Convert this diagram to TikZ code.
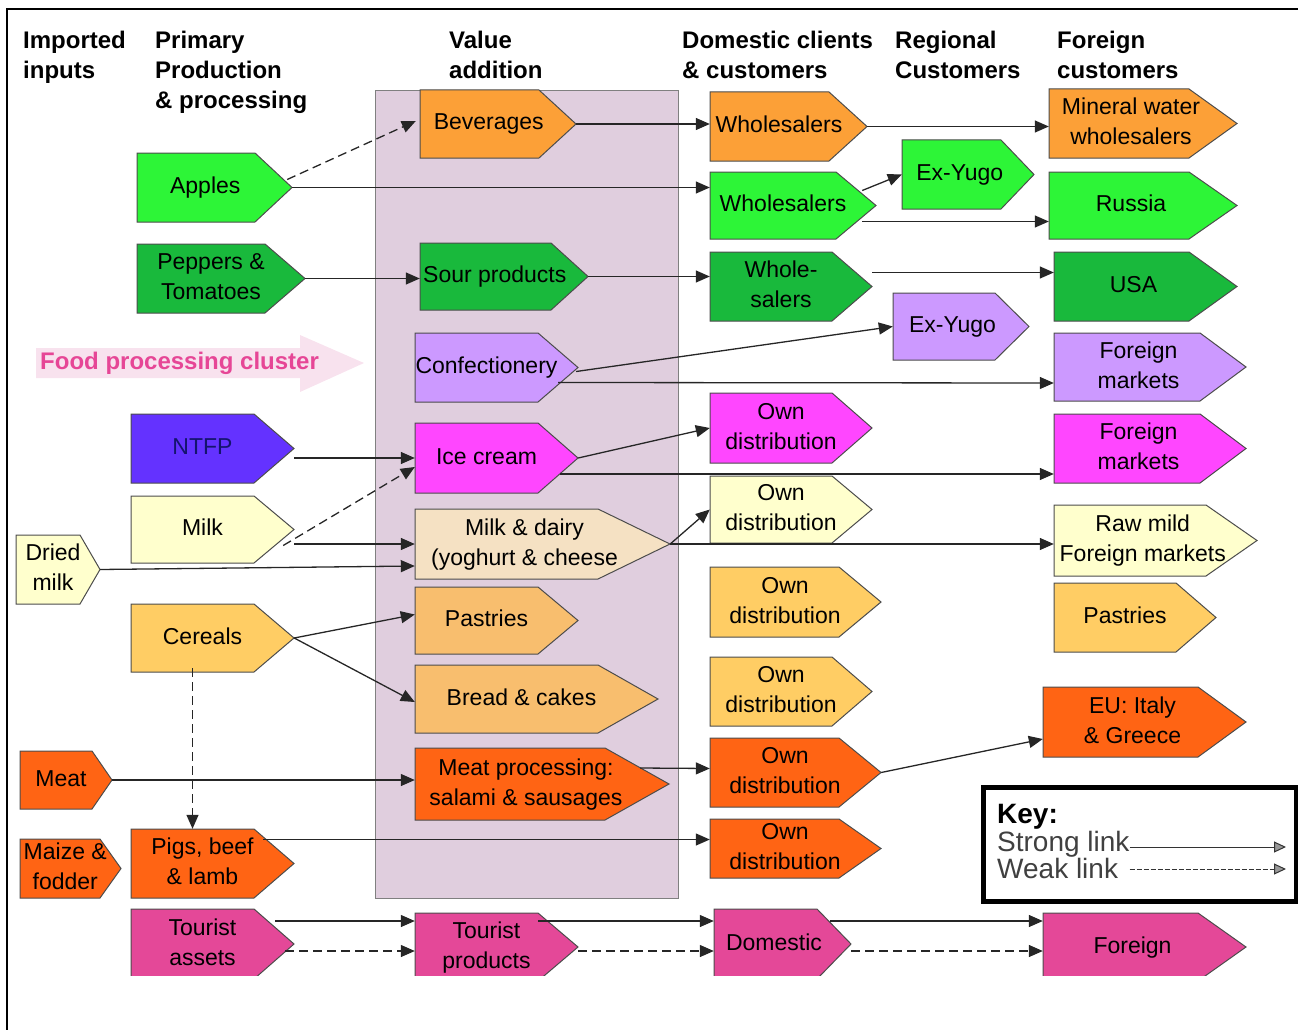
\documentclass[tikz,border=0pt]{standalone}
\usepackage{fontspec}
\setmainfont{Liberation Sans}
\usepackage{xcolor}
\usetikzlibrary{arrows.meta}

\definecolor{orng}{RGB}{252,160,55}
\definecolor{ltgreen}{RGB}{45,245,55}
\definecolor{dkgreen}{RGB}{25,185,60}
\definecolor{lavender}{RGB}{204,153,255}
\definecolor{ntfpblue}{RGB}{100,50,255}
\definecolor{navy}{RGB}{20,20,110}
\definecolor{magenta}{RGB}{255,70,255}
\definecolor{cream}{RGB}{255,255,205}
\definecolor{beige}{RGB}{245,225,195}
\definecolor{gold}{RGB}{255,205,100}
\definecolor{gold2}{RGB}{248,190,110}
\definecolor{redorng}{RGB}{255,100,20}
\definecolor{pink}{RGB}{228,72,152}
\definecolor{panel}{RGB}{224,206,222}
\definecolor{clusterpink}{RGB}{230,70,150}
\definecolor{clusterbg}{RGB}{248,226,238}

\tikzset{
  strong/.style={draw=black!85, line width=1.3pt, -{Triangle[length=14pt,width=12pt]}},
  weak/.style={strong, dash pattern=on 9pt off 5pt},
  keyline/.style={draw=black!80, line width=1pt, -{Triangle[length=12pt,width=11pt,fill=black!40]}},
  boxline/.style={draw=black!70, line width=1pt},
  boxtxt/.style={inner sep=0pt, font=\fontsize{23}{30}\selectfont},
  heading/.style={anchor=north west, inner sep=0pt, align=left, font=\fontsize{24}{30}\selectfont\bfseries},
  keytxt/.style={anchor=west, inner sep=0pt, text=black!75, font=\fontsize{28}{28}\selectfont},
}

% name, left, top, shoulder, tip, bottom, colour, text
\newcommand{\arrbox}[8]{%
  \filldraw[boxline, fill=#7] (#2,#3) -- (#4,#3) -- (#5,{(#3+#6)/2}) -- (#4,#6) -- (#2,#6) -- cycle;
  \pgfmathsetmacro\tipgap{(#5-#4)/2}
  \node[boxtxt, minimum width={(#5-#2)*1pt}, minimum height={(#6-#3)*1pt}] (#1) at ({(#2+#5)/2},{(#3+#6)/2})
    {\begin{tabular}{@{}c@{}}#8\end{tabular}\hspace*{\tipgap pt}};
}

\begin{document}
\begin{tikzpicture}[x=1pt, y=-1pt]
\useasboundingbox (0,0) rectangle (1298,1030);

% frame
\draw[line width=2.5pt] (7,1030) -- (7,9) -- (1298,9);

% column headings
\node[heading] (hinputs) at (23,31) {Imported\\inputs};
\node[heading] (hprimary) at (155,31) {Primary\\Production\\\& processing};
\node[heading] (hvalue) at (449,31) {Value\\addition};
\node[heading] (hdomestic) at (682,31) {Domestic clients\\\& customers};
\node[heading] (hregional) at (895,31) {Regional\\Customers};
\node[heading] (hforeign) at (1057,31) {Foreign\\customers};

% value addition panel
\filldraw[fill=panel, draw=black!50] (375,90) rectangle (678,898);

% cluster label
\fill[clusterbg] (36,348) -- (300,348) -- (300,335) -- (364,363) -- (300,392) -- (300,378) -- (36,378) -- cycle;
\node[anchor=west, inner sep=0pt, text=clusterpink, font=\fontsize{24}{30}\selectfont\bfseries] (cluster) at (40,363) {Food processing cluster};

% inputs and primary production
\arrbox{apples}{137}{153}{255}{292}{222}{ltgreen}{Apples}
\arrbox{pepper}{137}{244}{265}{305}{313}{dkgreen}{Peppers \&\\Tomatoes}
\arrbox{ntfp}{131}{414}{254}{294}{483}{ntfpblue}{\color{navy}NTFP}
\arrbox{milk}{131}{496}{254}{294}{563}{cream}{Milk}
\arrbox{dried}{16}{535}{80}{100}{604}{cream}{Dried\\milk}
\arrbox{cereals}{131}{604}{254}{294}{672}{gold}{Cereals}
\arrbox{meat}{20}{751}{92}{112}{809}{redorng}{Meat}
\arrbox{maize}{20}{839}{100}{121}{898}{redorng}{Maize \&\\fodder}
\arrbox{pigs}{131}{829}{254}{294}{898}{redorng}{Pigs, beef\\\& lamb}

% value addition
\arrbox{bev}{420}{90}{539}{576}{158}{orng}{Beverages}
\arrbox{sour}{420}{243}{551}{588}{310}{dkgreen}{Sour products}
\arrbox{conf}{415}{333}{538}{578}{402}{lavender}{Confectionery}
\arrbox{ice}{415}{423}{538}{578}{493}{magenta}{Ice cream}
\arrbox{dairy}{415}{509}{598}{670}{579}{beige}{Milk \& dairy\\(yoghurt \& cheese}
\arrbox{pastry}{415}{587}{538}{578}{654}{gold2}{Pastries}
\arrbox{bread}{415}{665}{598}{658}{733}{gold2}{Bread \& cakes}
\arrbox{meatp}{415}{748}{605}{669}{820}{redorng}{Meat processing:\\salami \& sausages}

% domestic clients
\arrbox{ws1}{710}{92}{829}{867}{161}{orng}{Wholesalers}
\arrbox{ws2}{710}{172}{836}{876}{239}{ltgreen}{Wholesalers}
\arrbox{ws3}{710}{252}{832}{872}{321}{dkgreen}{Whole-\\salers}
\arrbox{own1}{710}{393}{832}{872}{463}{magenta}{Own\\distribution}
\arrbox{own2}{710}{476}{832}{872}{543}{cream}{Own\\distribution}
\arrbox{own3}{710}{567}{839}{881}{637}{gold}{Own\\distribution}
\arrbox{own4}{710}{657}{832}{872}{726}{gold}{Own\\distribution}
\arrbox{own5}{710}{738}{839}{881}{807}{redorng}{Own\\distribution}
\arrbox{own6}{710}{819}{839}{881}{878}{redorng}{Own\\distribution}

% regional customers
\arrbox{yugo1}{902}{140}{1001}{1034}{209}{ltgreen}{Ex-Yugo}
\arrbox{yugo2}{893}{293}{995}{1029}{360}{lavender}{Ex-Yugo}

% foreign customers
\arrbox{mineral}{1049}{89}{1189}{1237}{158}{orng}{Mineral water\\wholesalers}
\arrbox{russia}{1049}{172}{1189}{1237}{239}{ltgreen}{Russia}
\arrbox{usa}{1054}{252}{1189}{1237}{321}{dkgreen}{USA}
\arrbox{fmkt1}{1054}{333}{1200}{1246}{401}{lavender}{Foreign\\markets}
\arrbox{fmkt2}{1054}{414}{1200}{1246}{483}{magenta}{Foreign\\markets}
\arrbox{rawmild}{1054}{505}{1206}{1257}{576}{cream}{Raw mild\\Foreign markets}
\arrbox{fpastry}{1054}{583}{1176}{1216}{652}{gold}{Pastries}
\arrbox{eu}{1043}{687}{1198}{1246}{757}{redorng}{EU: Italy\\\& Greece}

% tourism row, cut at the bottom
\begin{scope}
\clip (0,0) rectangle (1298,975);
\arrbox{tassets}{131}{909}{254}{294}{979}{pink}{Tourist\\assets}
\arrbox{tprod}{415}{913}{538}{578}{981}{pink}{Tourist\\products}
\arrbox{dom}{714}{909}{817}{851}{979}{pink}{Domestic}
\arrbox{foreign}{1043}{913}{1198}{1246}{981}{pink}{Foreign}
\end{scope}

% links into value addition
\draw[weak] ([shift={(-5,-8)}]apples.east) -- ([shift={(-4,-3)}]bev.west);
\draw[strong] (apples.east) -- (apples.east -| ws2.west);
\draw[strong] (pepper.east) -- (pepper.east -| sour.west);
\draw[strong] (ntfp.east |- ice.west) -- (ice.west);
\draw[weak] ([shift={(-11,16)}]milk.east) -- ([shift={(0,9)}]ice.west);
\draw[strong] (milk.east |- dairy.west) -- (dairy.west);
\draw[strong] (dried.east) -- ([shift={(0,22)}]dairy.west);
\draw[strong] (cereals.east) -- ([shift={(0,-6)}]pastry.west);
\draw[strong] (cereals.east) -- ([shift={(0,3)}]bread.west);
\draw[weak] ([shift={(-20,-4)}]cereals.south) -- ([shift={(-20,0)}]pigs.north);
\draw[strong] (meat.east) -- (meat.east -| meatp.west);

% links to clients
\draw[strong] (bev.east) -- (bev.east -| ws1.west);
\draw[strong] (ws1.east) -- (ws1.east -| mineral.west);
\draw[strong] ([shift={(-14,-15)}]ws2.east) -- (yugo1.west);
\draw[strong] ([shift={(-14,16)}]ws2.east) -- ([shift={(0,16)}]russia.west);
\draw[strong] (sour.east) -- (sour.east -| ws3.west);
\draw[strong] ([shift={(0,-14)}]ws3.east) -- ([shift={(0,-14)}]usa.west);
\draw[strong] ([shift={(-2,4)}]conf.east) -- (yugo2.west);
\draw[strong] ([shift={(-20,15)}]conf.east) -- ([shift={(0,16)}]fmkt1.west);
\draw[strong] (ice.east) -- (own1.west);
\draw[strong] ([shift={(-18,16)}]ice.east) -- ([shift={(0,25.5)}]fmkt2.west);
\draw[strong] (dairy.east) -- (own2.west);
\draw[strong] (dairy.east) -- (dairy.east -| rawmild.west);
\draw[strong] ([shift={(-29,-16)}]meatp.east) -- ([shift={(0,-4)}]own5.west);
\draw[strong] (own5.east) -- ([shift={(0,17)}]eu.west);
\draw[strong] ([shift={(-31,-24)}]pigs.east) -- ([shift={(0,-9)}]own6.west);

% tourism links
\draw[strong] ([shift={(-19,-23)}]tassets.east) -- ([shift={(0,-26)}]tprod.west);
\draw[weak] ([shift={(-9,7)}]tassets.east) -- ([shift={(0,4)}]tprod.west);
\draw[strong] ([shift={(-40,-26)}]tprod.east) -- ([shift={(0,-23)}]dom.west);
\draw[weak] ([shift={(0,4)}]tprod.east) -- ([shift={(0,7)}]dom.west);
\draw[strong] ([shift={(-21,-23)}]dom.east) -- ([shift={(0,-26)}]foreign.west);
\draw[weak] ([shift={(0,7)}]dom.east) -- ([shift={(0,4)}]foreign.west);

% key
\draw[line width=5pt] (983,787) rectangle (1296,901);
\node[anchor=west, inner sep=0pt, font=\fontsize{28}{28}\selectfont\bfseries] (keyhead) at (997,817) {Key:};
\node[keytxt] (strongtxt) at (997,844) {Strong link};
\node[keytxt] (weaktxt) at (997,868) {Weak link};
\coordinate (strongend) at (1286,847);
\coordinate (weakend) at (1286,869);
\draw[keyline] (strongtxt.east |- strongend) -- (strongend);
\draw[keyline, dash pattern=on 5pt off 2pt] (strongtxt.east |- weakend) -- (weakend);

\end{tikzpicture}
\end{document}
